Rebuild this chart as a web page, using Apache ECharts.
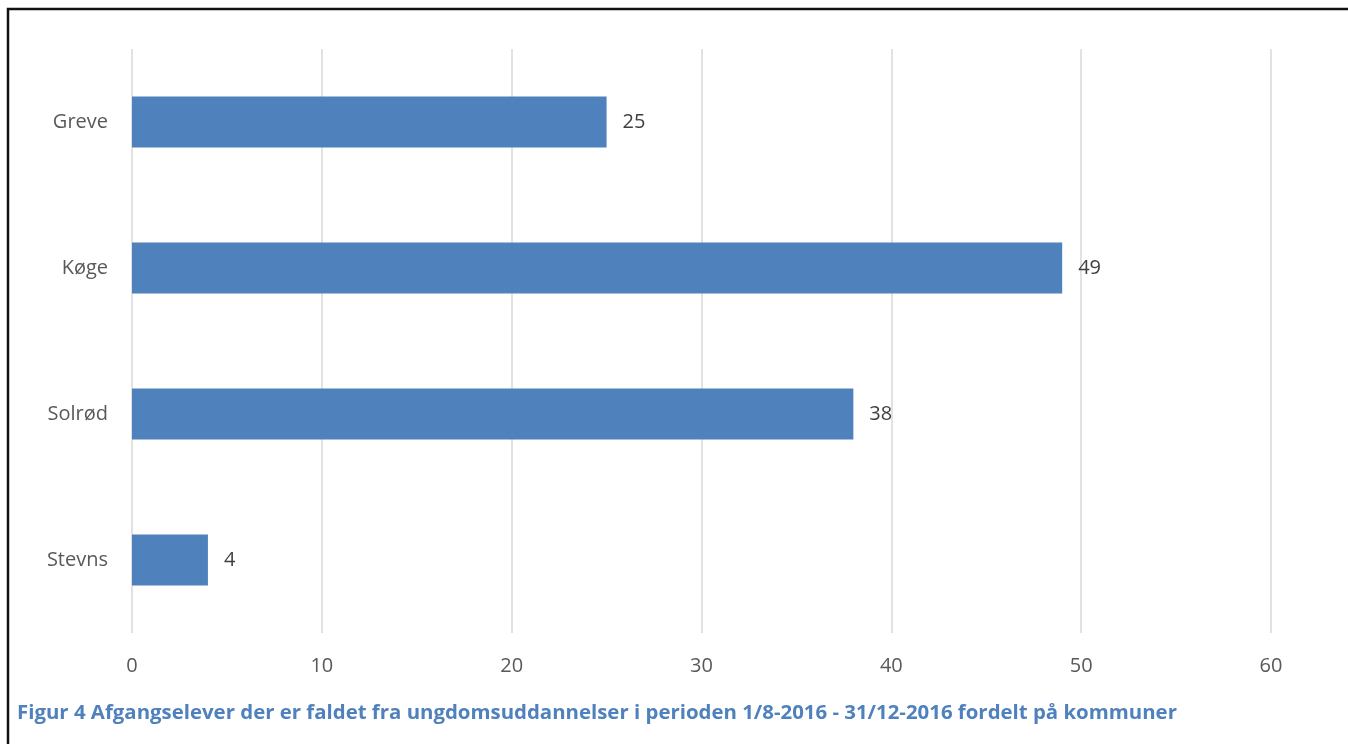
<!DOCTYPE html>
<html>
<head>
<meta charset="utf-8">
<script src="https://cdn.jsdelivr.net/npm/echarts@6/dist/echarts.min.js"></script>
<style>
  html, body { margin: 0; padding: 0; background: #fff; }
  #chart { width: 1348px; height: 744px; }
</style>
</head>
<body>
<div id="chart"></div>
<script>
// kommuner, top to bottom as in the figure
var kommuner = ['Greve', 'Køge', 'Solrød', 'Stevns'];
var antal = [25, 49, 38, 4];
var xTicks = [0, 10, 20, 30, 40, 50, 60];
var figurTekst = 'Figur 4 Afgangselever der er faldet fra ungdomsuddannelser i perioden 1/8-2016 - 31/12-2016 fordelt på kommuner';

var chart = echarts.init(document.getElementById('chart'));
var font = '"Open Sans", "Noto Sans", sans-serif';

var option = {
  animation: false,
  title: {
    text: figurTekst,
    left: 12,
    top: 698,
    textStyle: {
      color: '#4F81BD',
      fontFamily: font,
      fontWeight: 'bold',
      fontSize: 20.4
    }
  },
  graphic: [
    {
      type: 'rect',
      shape: { x: 8, y: 9, width: 1400, height: 800 },
      style: { fill: 'none', stroke: '#111', lineWidth: 2.5 },
      silent: true
    }
  ],
  grid: {
    left: 132,
    right: 1348 - 1271,
    top: 49,
    bottom: 744 - 633,
    containLabel: false
  },
  xAxis: {
    type: 'value',
    min: xTicks[0],
    max: xTicks[xTicks.length - 1],
    interval: 10,
    axisLine: { show: false },
    axisTick: { show: false },
    axisLabel: {
      margin: 23,
      color: '#595959',
      fontFamily: font,
      fontSize: 20
    },
    splitLine: { lineStyle: { color: '#d9d9d9', width: 1.5 } }
  },
  yAxis: {
    type: 'category',
    inverse: true,
    data: kommuner,
    axisLine: { show: false },
    axisTick: { show: false },
    axisLabel: {
      margin: 24,
      color: '#595959',
      fontFamily: font,
      fontSize: 20
    }
  },
  series: [
    {
      type: 'bar',
      data: antal,
      barWidth: 51,
      itemStyle: { color: '#4F81BD' },
      label: {
        show: true,
        position: 'right',
        distance: 16,
        color: '#404040',
        fontFamily: font,
        fontSize: 20
      }
    }
  ]
};
chart.setOption(option);
</script>
</body>
</html>
